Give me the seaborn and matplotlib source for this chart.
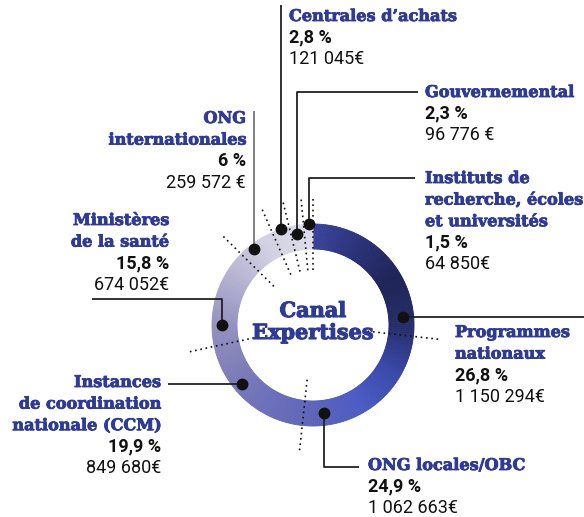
import numpy as np
import matplotlib
matplotlib.use("Agg")
import matplotlib.pyplot as plt
import matplotlib.patheffects as pe
import seaborn as sns

# DATA
categories=["Programmes nationaux","ONG locales/OBC","Instances de coordination nationale (CCM)",
            "Ministères de la santé","ONG internationales","Centrales d’achats",
            "Gouvernemental","Instituts de recherche, écoles et universités"]
shares=[26.8,24.9,19.9,15.8,6.0,2.8,2.3,1.5]
share_labels=["26,8 %","24,9 %","19,9 %","15,8 %","6 %","2,8 %","2,3 %","1,5 %"]
amount_labels=["1 150 294€","1 062 663€","849 680€","674 052€","259 572 €","121 045€","96 776 €","64 850€"]
name_lines=[["Programmes","nationaux"],["ONG locales/OBC"],["Instances","de coordination","nationale (CCM)"],
            ["Ministères","de la santé"],["ONG","internationales"],["Centrales d’achats"],
            ["Gouvernemental"],["Instituts de","recherche, écoles","et universités"]]

# LAYOUT (pixels)
CX,CY=313,325
R_OUT,WIDTH=101,25
BLUE="#2e3a94"
# label anchor: x, first baseline, alignment
label_pos=[(455,337,"left"),(368,470,"left"),(161,387,"right"),(169,225,"right"),
           (246,123,"right"),(289,21,"left"),(425,97,"left"),(425,183,"left")]
# leader polylines, first point = dot on ring
leaders=[[(403,317),(584,317)],
         [(324,413),(324,467),(359,467)],
         [(242,384),(168,384)],
         [(222,325),(222,299),(92,299)],
         [(254,249),(254,111)],
         [(281,229),(281,5)],
         [(297,234),(297,92),(418,92)],
         [(309,224),(309,178),(415,178)]]
leader_colors=["#222222"]*4+["#777777","#222222","#222222","#222222"]

sns.set_theme(style="white")
ring_cmap=sns.blend_palette(["#3b449b","#2a3278","#1e2457","#262d6a","#3a48a8","#4c5cc4",
                             "#5e64b8","#6c6fba","#7e7db8","#9391c0","#b3b1d0","#d2d1e3","#dedde9"],as_cmap=True)

fig=plt.figure(figsize=(5.84,5.17),dpi=100)
ax=fig.add_axes([0,0,1,1])

# split each share into small pieces to draw the gradient
pieces=[]
piece_colors=[]
cum=0.0
for s in shares:
    n=max(2,int(round(s*3)))
    for j in range(n):
        mid=(cum+s*(j+0.5)/n)/100
        pieces.append(s/n)
        piece_colors.append(ring_cmap(mid))
    cum+=s
wedges,_=ax.pie(pieces,colors=piece_colors,startangle=-90,counterclock=True,center=(CX,CY),
                radius=R_OUT,wedgeprops=dict(width=WIDTH,linewidth=0.6),frame=False)
for w,c in zip(wedges,piece_colors):
    w.set_edgecolor(c)

# dotted boundaries
cums=np.cumsum([0]+shares[:-1])
for c in cums:
    phi=np.deg2rad(360*c/100)
    r=np.array([55,127])
    ax.plot(CX+r*np.sin(phi),CY-r*np.cos(phi),color="#111111",lw=1.2,ls=(0,(1,2.2)),zorder=3)

# leaders
for pts,col in zip(leaders,leader_colors):
    xs=[p[0] for p in pts]
    ys=[p[1] for p in pts]
    ax.plot(xs,ys,color=col,lw=1.3,zorder=4,solid_capstyle="butt")
    ax.plot(xs[0],ys[0],"o",color="#111111",ms=7.5,zorder=5)

# labels
heavy=[pe.withStroke(linewidth=0.6,foreground=BLUE)]
LH=21.6
for names,sl,al,(x,y,ha) in zip(name_lines,share_labels,amount_labels,label_pos):
    yy=y
    for nm in names:
        ax.text(x,yy,nm,ha=ha,va="baseline",family="DejaVu Serif",weight="bold",fontsize=11.6,
                color=BLUE,path_effects=heavy)
        yy+=LH
    ax.text(x,yy,sl,ha=ha,va="baseline",family="Roboto",weight="bold",fontsize=13,color="#111111")
    yy+=LH
    ax.text(x,yy,al,ha=ha,va="baseline",family="Roboto",fontsize=13,color="#111111")

big=[pe.withStroke(linewidth=0.8,foreground=BLUE)]
ax.text(CX,317,"Canal",ha="center",va="baseline",family="DejaVu Serif",weight="bold",fontsize=15,
        color=BLUE,path_effects=big)
ax.text(CX,339,"Expertises",ha="center",va="baseline",family="DejaVu Serif",weight="bold",fontsize=15,
        color=BLUE,path_effects=big)

ax.set_xlim(0,584)
ax.set_ylim(517,0)
ax.set_aspect("equal")
ax.axis("off")
fig.savefig("out.png",dpi=100)
